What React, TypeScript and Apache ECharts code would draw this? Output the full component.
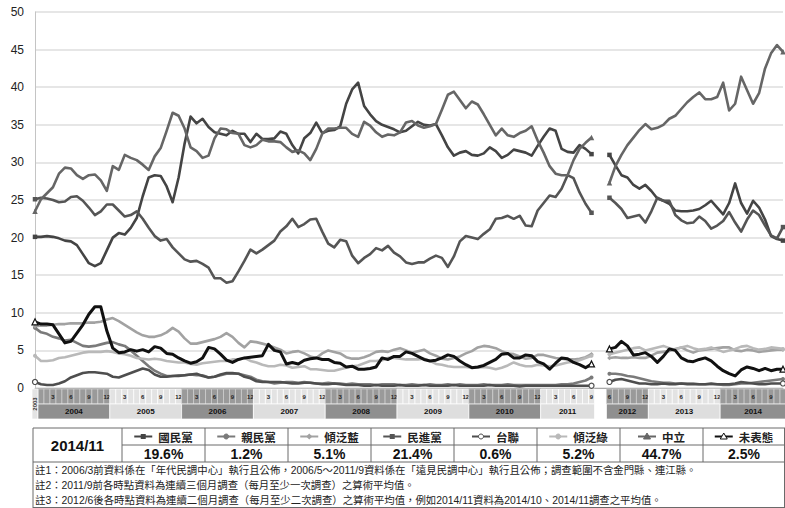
import React, { useEffect, useRef } from "react";
import * as echarts from "echarts";

// ---------- categories (2003/12 .. 2011/9, gap, 2012/6 .. 2014/11) ----------
const categories: string[] = ["2003/12"];
for (let y = 2004; y <= 2011; y++) {
  for (let m = 1; m <= 12; m++) {
    if (y === 2011 && m > 9) break;
    categories.push(`${y}/${m}`);
  }
}
categories.push("", "");
for (let y = 2012; y <= 2014; y++) {
  for (let m = 1; m <= 12; m++) {
    if (y === 2012 && m < 6) continue;
    if (y === 2014 && m > 11) break;
    categories.push(`${y}/${m}`);
  }
}

const yTicks = [0, 5, 10, 15, 20, 25, 30, 35, 40, 45, 50];

// ---------- series values (before gap: 94 points, after gap: 30 points) ----------
const kmtA = [20.1, 20.1, 20.2, 20.1, 19.9, 19.6, 19.5, 19.0, 17.8, 16.6,
  16.2, 16.6, 18.3, 20.0, 20.6, 20.4, 21.3, 22.6, 25.5, 28.0,
  28.3, 28.2, 26.8, 24.7, 28.0, 32.5, 36.1, 35.2, 35.8, 34.7,
  34.0, 33.8, 33.6, 34.2, 33.8, 33.8, 32.7, 33.8, 33.1, 33.1,
  33.2, 34.1, 33.8, 32.3, 31.2, 33.2, 33.9, 35.3, 33.9, 34.2,
  34.3, 34.8, 37.8, 39.7, 40.6, 37.5, 36.4, 35.5, 35.0, 34.7,
  34.4, 34.0, 34.2, 34.8, 35.4, 35.0, 34.9, 35.1, 33.6, 32.0,
  30.9, 31.3, 31.5, 31.0, 30.9, 31.2, 32.0, 31.5, 30.6, 31.0,
  31.7, 31.5, 31.3, 30.9, 32.2, 33.4, 34.5, 34.2, 31.8, 31.4,
  31.3, 32.3, 31.8, 31.1];
const kmtB = [31.0, 29.6, 28.3, 28.0, 27.0, 26.5, 27.0, 26.2, 25.2, 24.9,
  24.5, 23.6, 23.5, 23.5, 23.6, 23.8, 24.3, 24.9, 24.0, 23.1,
  24.6, 27.2, 24.6, 23.2, 24.9, 24.0, 22.4, 20.2, 19.8, 19.6];

const pfpA = [8.0, 7.4, 7.2, 6.8, 6.6, 6.3, 6.4, 6.0, 5.6, 5.5,
  5.6, 5.8, 6.0, 6.1, 5.8, 5.6, 5.0, 4.3, 3.6, 2.9,
  2.3, 1.9, 1.6, 1.6, 1.7, 1.7, 1.8, 1.7, 1.7, 1.4,
  1.5, 1.7, 1.9, 1.9, 1.9, 1.7, 1.5, 1.1, 0.9, 0.8,
  0.6, 0.7, 0.8, 0.8, 0.7, 0.8, 0.7, 0.6, 0.6, 0.7,
  0.6, 0.6, 0.5, 0.6, 0.5, 0.5, 0.5, 0.4, 0.5, 0.5,
  0.5, 0.4, 0.4, 0.5, 0.4, 0.4, 0.5, 0.4, 0.4, 0.5,
  0.4, 0.5, 0.4, 0.4, 0.4, 0.5, 0.4, 0.4, 0.4, 0.5,
  0.4, 0.4, 0.4, 0.4, 0.4, 0.4, 0.4, 0.4, 0.5, 0.5,
  0.6, 0.8, 1.0, 1.4];
const pfpB = [1.9, 1.9, 1.8, 1.6, 1.5, 1.3, 1.1, 0.9, 0.8, 0.7,
  0.7, 0.6, 0.6, 0.6, 0.6, 0.5, 0.5, 0.5, 0.5, 0.4,
  0.4, 0.5, 0.6, 0.6, 0.7, 0.8, 0.9, 1.0, 1.1, 1.2];

const leanBlueA = [8.2, 8.3, 8.3, 8.4, 8.5, 8.5, 8.6, 8.6, 8.6, 8.7,
  8.7, 8.8, 9.1, 9.3, 8.9, 8.4, 7.9, 7.4, 7.0, 6.8,
  6.8, 7.0, 7.4, 8.0, 7.5, 6.6, 5.9, 5.9, 6.1, 6.3,
  6.5, 6.8, 7.3, 6.8, 6.0, 5.4, 6.2, 6.1, 5.9, 5.7,
  5.4, 5.1, 4.6, 4.8, 4.9, 4.6, 4.2, 4.0, 4.6, 5.0,
  4.8, 4.6, 4.1, 3.9, 3.9, 4.1, 4.4, 4.8, 4.9, 4.8,
  5.1, 5.3, 5.0, 4.7, 4.9, 5.1, 4.6, 4.3, 3.9, 3.8,
  4.0, 4.2, 4.6, 4.9, 5.4, 5.6, 5.5, 5.3, 4.9, 4.6,
  4.5, 4.2, 3.9, 4.0, 4.4, 4.4, 4.2, 4.0, 3.9, 3.8,
  3.8, 3.9, 4.1, 4.5];
const leanBlueB = [4.0, 4.1, 4.0, 4.0, 4.1, 4.0, 4.0, 4.3, 4.7, 4.8,
  4.9, 5.2, 5.4, 5.0, 4.7, 5.0, 5.1, 5.2, 5.3, 5.4,
  5.4, 5.0, 4.9, 5.1, 5.0, 4.8, 4.9, 5.0, 5.1, 5.1];

const dppA = [25.1, 25.3, 25.2, 25.0, 24.7, 24.8, 25.4, 25.5, 24.9, 24.0,
  23.0, 23.5, 24.4, 24.4, 23.6, 22.8, 23.0, 23.5, 22.5, 21.3,
  20.2, 19.6, 19.8, 18.7, 17.9, 17.1, 16.8, 16.9, 16.5, 16.0,
  14.6, 14.6, 14.0, 14.2, 15.5, 16.9, 18.4, 17.9, 18.4, 19.0,
  19.6, 20.8, 21.5, 22.5, 21.4, 21.8, 22.4, 22.5, 20.8, 19.2,
  18.7, 19.7, 19.5, 17.6, 16.6, 17.3, 17.8, 18.6, 18.3, 18.9,
  18.0, 17.5, 16.7, 16.5, 16.7, 16.7, 17.2, 17.6, 17.3, 16.1,
  17.5, 19.5, 20.2, 20.0, 19.8, 20.5, 21.1, 22.5, 22.6, 22.9,
  22.5, 22.9, 21.6, 21.5, 23.6, 24.6, 25.6, 25.4, 26.5, 28.3,
  27.9, 26.0, 24.5, 23.3];
const dppB = [25.3, 24.6, 23.8, 22.6, 22.8, 23.0, 22.0, 23.5, 25.3, 24.9,
  24.9, 23.0, 22.3, 21.9, 22.0, 22.8, 22.2, 21.2, 21.6, 22.2,
  23.4, 22.0, 20.8, 22.4, 23.6, 23.0, 21.6, 20.3, 19.9, 21.4];

const tsuA = [0.8, 0.5, 0.4, 0.4, 0.6, 0.9, 1.4, 1.7, 2.0, 2.1,
  2.1, 2.0, 1.9, 1.5, 1.4, 1.7, 2.0, 2.3, 2.6, 2.4,
  1.8, 1.5, 1.5, 1.6, 1.6, 1.7, 1.8, 1.9, 1.6, 1.4,
  1.5, 1.8, 2.0, 2.0, 1.9, 1.5, 1.3, 0.9, 0.8, 0.8,
  0.8, 0.8, 0.7, 0.6, 0.6, 0.7, 0.7, 0.6, 0.5, 0.5,
  0.6, 0.5, 0.4, 0.4, 0.4, 0.3, 0.3, 0.4, 0.3, 0.3,
  0.3, 0.4, 0.3, 0.3, 0.3, 0.4, 0.3, 0.3, 0.3, 0.3,
  0.4, 0.3, 0.3, 0.3, 0.3, 0.3, 0.4, 0.3, 0.3, 0.3,
  0.3, 0.2, 0.3, 0.3, 0.3, 0.3, 0.3, 0.3, 0.3, 0.3,
  0.3, 0.3, 0.3, 0.3];
const tsuB = [0.8, 1.1, 1.2, 1.0, 0.8, 0.6, 0.6, 0.5, 0.5, 0.6,
  0.5, 0.5, 0.6, 0.5, 0.5, 0.5, 0.5, 0.6, 0.5, 0.5,
  0.5, 0.6, 0.8, 0.7, 0.6, 0.5, 0.5, 0.6, 0.6, 0.6];

const leanGreenA = [4.3, 3.6, 3.6, 3.7, 4.0, 4.1, 4.3, 4.5, 4.7, 4.8,
  4.8, 4.8, 4.9, 4.8, 4.6, 4.5, 4.3, 4.0, 3.9, 3.8,
  3.9, 3.8, 3.6, 3.5, 3.4, 3.4, 3.2, 3.1, 3.3, 3.4,
  3.5, 3.6, 3.6, 3.8, 3.8, 4.0, 3.6, 3.4, 3.1, 2.9,
  2.9, 3.1, 3.0, 2.7, 2.8, 2.9, 2.5, 2.5, 2.4, 2.3,
  2.3, 2.5, 2.7, 2.9, 3.0, 3.3, 3.6, 3.6, 3.7, 4.0,
  4.0, 3.9, 3.8, 3.8, 3.8, 3.9, 3.6, 3.2, 3.1, 2.9,
  2.8, 2.8, 2.8, 2.7, 2.7, 2.8, 2.7, 2.5, 2.7, 3.0,
  3.4, 3.1, 2.9, 2.9, 3.1, 3.0, 2.9, 3.0, 3.2, 3.4,
  3.5, 3.7, 4.0, 4.3];
const leanGreenB = [4.5, 4.7, 4.9, 5.1, 5.3, 5.4, 5.0, 5.2, 5.4, 5.6,
  5.3, 5.1, 5.4, 5.6, 5.3, 5.1, 5.2, 5.4, 5.1, 4.8,
  5.0, 5.2, 5.5, 5.6, 5.3, 5.1, 5.2, 5.4, 5.3, 5.2];

const neutralA = [23.5, 25.1, 25.9, 26.7, 28.5, 29.3, 29.2, 28.3, 27.8, 28.3,
  28.4, 27.6, 26.2, 29.5, 29.0, 31.0, 30.6, 30.3, 29.7, 29.0,
  30.8, 31.9, 34.2, 36.6, 36.2, 34.5, 32.0, 31.5, 30.6, 30.9,
  33.2, 34.5, 34.4, 33.9, 33.8, 32.3, 32.0, 32.3, 33.0, 32.8,
  32.8, 32.7, 32.0, 31.4, 31.6, 31.2, 30.3, 31.8, 33.8, 34.5,
  34.5, 34.6, 34.6, 33.8, 33.4, 35.4, 34.9, 34.0, 33.4, 33.7,
  33.6, 34.0, 35.3, 35.5, 34.9, 34.6, 34.8, 35.1, 37.0, 39.0,
  39.4, 38.3, 37.2, 38.1, 37.7, 36.4, 35.0, 33.6, 34.5, 33.6,
  33.4, 33.9, 34.2, 34.8, 32.9, 31.3, 29.5, 28.5, 28.3, 28.3,
  30.3, 31.8, 32.6, 33.3];
const neutralB = [27.3, 29.5, 31.0, 32.3, 33.3, 34.3, 35.1, 34.4, 34.6, 35.0,
  35.8, 36.2, 37.1, 38.0, 38.7, 39.3, 38.4, 38.4, 38.7, 40.6,
  36.9, 37.8, 41.4, 39.6, 37.8, 39.2, 42.5, 44.5, 45.6, 44.7];

const undecidedA = [8.8, 8.5, 8.5, 8.4, 7.2, 6.0, 6.2, 7.3, 8.4, 9.8,
  10.8, 10.8, 7.6, 5.3, 4.7, 4.8, 5.1, 4.9, 5.1, 4.8,
  5.5, 5.3, 4.6, 4.5, 4.0, 3.6, 3.3, 3.5, 4.0, 5.4,
  5.2, 4.5, 3.7, 3.4, 3.8, 4.0, 4.1, 4.2, 4.3, 5.8,
  5.0, 4.8, 3.2, 3.4, 3.2, 3.7, 3.9, 4.0, 3.8, 3.8,
  3.4, 3.3, 2.8, 2.9, 2.5, 2.5, 2.6, 2.8, 4.0, 3.8,
  4.2, 4.2, 4.8, 4.6, 4.2, 3.8, 3.6, 3.7, 4.0, 4.4,
  4.2, 3.6, 3.1, 2.7, 2.8, 3.0, 3.4, 3.8, 4.5, 4.6,
  4.0, 4.0, 4.4, 4.3, 3.5, 3.2, 2.5, 3.3, 4.0, 3.9,
  3.4, 3.1, 2.7, 3.2];
const undecidedB = [5.2, 5.4, 6.2, 5.6, 4.4, 4.5, 4.7, 4.2, 3.4, 4.2,
  5.2, 5.0, 4.0, 3.6, 3.5, 3.8, 4.0, 3.6, 2.9, 2.3,
  1.9, 1.6, 2.4, 2.8, 2.6, 2.3, 2.6, 2.3, 2.5, 2.5];

const notes = [
  "註1：2006/3前資料係在「年代民調中心」執行且公佈，2006/5～2011/9資料係在「遠見民調中心」執行且公佈；調查範圍不含金門縣、連江縣。",
  "註2：2011/9前各時點資料為連續三個月調查（每月至少一次調查）之算術平均值。",
  "註3：2012/6後各時點資料為連續二個月調查（每月至少二次調查）之算術平均值，例如2014/11資料為2014/10、2014/11調查之平均值。",
];

const join = (a: number[], b: number[]) => [...a, null, null, ...b];

type Def = { name: string; a: number[]; b: number[]; color: string; symbol: string; size: number; width: number; open?: boolean };
const defs: Def[] = [
  { name: "國民黨", a: kmtA, b: kmtB, color: "#444444", symbol: "rect", size: 4.5, width: 2.6 },
  { name: "親民黨", a: pfpA, b: pfpB, color: "#7a7a7a", symbol: "circle", size: 4, width: 2.6 },
  { name: "傾泛藍", a: leanBlueA, b: leanBlueB, color: "#a2a2a2", symbol: "diamond", size: 4.5, width: 2.6 },
  { name: "民進黨", a: dppA, b: dppB, color: "#555555", symbol: "rect", size: 4.5, width: 2.6 },
  { name: "台聯", a: tsuA, b: tsuB, color: "#4e4e4e", symbol: "circle", size: 5, width: 2.6, open: true },
  { name: "傾泛綠", a: leanGreenA, b: leanGreenB, color: "#b9b9b9", symbol: "circle", size: 4, width: 2.6 },
  { name: "中立", a: neutralA, b: neutralB, color: "#666666", symbol: "triangle", size: 5.5, width: 2.6 },
  { name: "未表態", a: undecidedA, b: undecidedB, color: "#111111", symbol: "triangle", size: 6, width: 3, open: true },
];

const endIdx = [0, 93, 96, 125];

// band data
const monthCells: number[][] = [];
categories.forEach((c, i) => {
  if (!c || i === 0) return;
  const [y, m] = c.split("/").map(Number);
  monthCells.push([i, 1, y, m]);
});
const yearBlocks: number[][] = [];
categories.forEach((c, i) => {
  if (!c) return;
  const y = Number(c.split("/")[0]);
  const last = yearBlocks[yearBlocks.length - 1];
  if (last && last[3] === y) last[2] = i;
  else yearBlocks.push([i, 1, i, y]);
});

const CJK = '"Noto Sans CJK TC", "Noto Sans CJK SC", sans-serif';
const LAT = '"Liberation Sans", Arial, "Noto Sans CJK TC", sans-serif';

function buildGraphic() {
  const els: any[] = [];
  const top = 428, r1 = 445, r2 = 462, bottom = 508;
  const colX = [33, 122, 205, 288, 371, 454, 537, 620, 703, 785];
  const ls = { stroke: "#6a6a6a", lineWidth: 1 };
  els.push({ type: "line", shape: { x1: 33, y1: top, x2: 785, y2: top }, style: ls });
  els.push({ type: "line", shape: { x1: 122, y1: r1, x2: 785, y2: r1 }, style: ls });
  els.push({ type: "line", shape: { x1: 33, y1: r2, x2: 785, y2: r2 }, style: ls });
  els.push({ type: "line", shape: { x1: 33, y1: top, x2: 33, y2: bottom }, style: ls });
  els.push({ type: "line", shape: { x1: 784.5, y1: top, x2: 784.5, y2: bottom }, style: ls });
  els.push({ type: "line", shape: { x1: 33, y1: bottom - 0.5, x2: 785, y2: bottom - 0.5 }, style: ls });
  for (let k = 1; k < colX.length - 1; k++) {
    els.push({ type: "line", shape: { x1: colX[k], y1: top, x2: colX[k], y2: r2 }, style: ls });
  }
  els.push({
    type: "text", x: (colX[0] + colX[1]) / 2, y: (top + r2) / 2,
    style: { text: categories[categories.length - 1], fill: "#111", font: `bold 15px ${LAT}`, align: "center", verticalAlign: "middle" },
  });
  defs.forEach((d, k) => {
    const cx = (colX[k + 1] + colX[k + 2]) / 2;
    const fs = 11.5;
    const tw = d.name.length * fs;
    const total = 18 + 6 + tw;
    const x0 = cx - total / 2;
    const yc = (top + r1) / 2;
    els.push({ type: "line", shape: { x1: x0, y1: yc, x2: x0 + 18, y2: yc }, style: { stroke: d.color, lineWidth: 2 } });
    const mx = x0 + 9;
    const fill = d.open ? "#fff" : d.color;
    if (d.symbol === "rect") els.push({ type: "rect", shape: { x: mx - 2.5, y: yc - 2.5, width: 5, height: 5 }, style: { fill } });
    else if (d.symbol === "triangle") els.push({ type: "polygon", shape: { points: [[mx, yc - 3.5], [mx + 3.5, yc + 2.5], [mx - 3.5, yc + 2.5]] }, style: { fill, stroke: d.color, lineWidth: 1 } });
    else if (d.symbol === "diamond") els.push({ type: "polygon", shape: { points: [[mx, yc - 3], [mx + 3, yc], [mx, yc + 3], [mx - 3, yc]] }, style: { fill } });
    else els.push({ type: "circle", shape: { cx: mx, cy: yc, r: 2.5 }, style: { fill, stroke: d.color, lineWidth: 1 } });
    els.push({
      type: "text", x: x0 + 24, y: yc,
      style: { text: d.name, fill: "#222", font: `bold ${fs}px ${CJK}`, align: "left", verticalAlign: "middle" },
    });
    const last = d.b[d.b.length - 1];
    els.push({
      type: "text", x: cx, y: (r1 + r2) / 2 + 0.5,
      style: { text: `${last.toFixed(1)}%`, fill: "#111", font: `bold 14px ${LAT}`, align: "center", verticalAlign: "middle" },
    });
  });
  notes.forEach((t, k) => {
    els.push({
      type: "text", x: 35, y: 470 + k * 15.3,
      style: { text: t, fill: "#222", font: `10.4px ${LAT}`, align: "left", verticalAlign: "middle" },
    });
  });
  return els;
}

function buildOption(): any {
  const lineSeries = defs.map((d, k) => ({
    type: "line",
    name: d.name,
    data: join(d.a, d.b),
    xAxisIndex: 0,
    yAxisIndex: 0,
    symbol: d.symbol,
    symbolSize: (_v: any, p: any) => (endIdx.includes(p.dataIndex) ? d.size : 0),
    showAllSymbol: true,
    connectNulls: false,
    lineStyle: { color: d.color, width: d.width, join: "round" },
    itemStyle: { color: d.open ? "#ffffff" : d.color, borderColor: d.color, borderWidth: d.open ? 1.2 : 0 },
    emphasis: { disabled: true },
    z: 2 + (k === 7 ? 2 : 0),
  }));

  const monthSeries = {
    type: "custom",
    xAxisIndex: 1,
    yAxisIndex: 1,
    data: monthCells,
    encode: { x: 0, y: 1 },
    silent: true,
    renderItem: (_p: any, api: any) => {
      const idx = api.value(0);
      const yr = api.value(2);
      const mo = api.value(3);
      const a = api.coord([idx, 2]);
      const b = api.coord([idx, 1]);
      const w = api.size([1, 0])[0];
      const dark = yr % 2 === 0;
      const children: any[] = [
        { type: "rect", shape: { x: a[0] - w / 2, y: a[1], width: w, height: b[1] - a[1] },
          style: { fill: dark ? "#9a9a9a" : "#e3e3e3", stroke: dark ? "#d0d0d0" : "#ffffff", lineWidth: 0.7 } },
      ];
      if (mo % 3 === 0) {
        children.push({ type: "text", x: a[0], y: (a[1] + b[1]) / 2,
          style: { text: String(mo), fill: "#222", font: 'bold 6px "Liberation Sans Narrow", "Liberation Sans", sans-serif', align: "center", verticalAlign: "middle" } });
      }
      return { type: "group", children };
    },
  };

  const yearSeries = {
    type: "custom",
    xAxisIndex: 1,
    yAxisIndex: 1,
    data: yearBlocks,
    encode: { x: 0, y: 1 },
    silent: true,
    renderItem: (_p: any, api: any) => {
      const s = api.value(0);
      const e = api.value(2);
      const yr = api.value(3);
      const w = api.size([1, 0])[0];
      const x0 = api.coord([s, 0])[0] - w / 2;
      const x1 = api.coord([e, 0])[0] + w / 2;
      const yTop = api.coord([s, 1])[1];
      const yBot = api.coord([s, 0])[1];
      const yAll = api.coord([s, 2])[1];
      if (s === e) {
        return { type: "group", children: [
          { type: "rect", shape: { x: x0, y: yAll, width: x1 - x0, height: yBot - yAll }, style: { fill: "#e3e3e3", stroke: "#fff", lineWidth: 0.7 } },
          { type: "text", x: (x0 + x1) / 2, y: (yAll + yBot) / 2, rotation: Math.PI / 2,
            style: { text: String(yr), fill: "#333", font: 'bold 6px "Liberation Sans Narrow", sans-serif', align: "center", verticalAlign: "middle" } },
        ] };
      }
      const dark = yr % 2 === 0;
      return { type: "group", children: [
        { type: "rect", shape: { x: x0, y: yTop, width: x1 - x0, height: yBot - yTop }, style: { fill: dark ? "#8f8f8f" : "#dedede", stroke: "#fff", lineWidth: 0.7 } },
        { type: "text", x: (x0 + x1) / 2, y: (yTop + yBot) / 2,
          style: { text: String(yr), fill: "#111", font: 'bold 8px "Liberation Sans Narrow", "Liberation Sans", sans-serif', align: "center", verticalAlign: "middle" } },
      ] };
    },
  };

  return {
    animation: false,
    backgroundColor: "#ffffff",
    grid: [
      { left: 35, right: 2, top: 12, height: 376 },
      { left: 35, right: 2, top: 389, height: 30 },
    ],
    xAxis: [
      { type: "category", gridIndex: 0, data: categories, boundaryGap: false,
        axisLine: { show: true, lineStyle: { color: "#a8a8a8", width: 1 } },
        axisTick: { show: false }, axisLabel: { show: false }, splitLine: { show: false } },
      { type: "category", gridIndex: 1, data: categories, boundaryGap: false,
        axisLine: { show: false }, axisTick: { show: false }, axisLabel: { show: false }, splitLine: { show: false } },
    ],
    yAxis: [
      { type: "value", gridIndex: 0, min: yTicks[0], max: yTicks[yTicks.length - 1], interval: 5,
        axisLine: { show: true, lineStyle: { color: "#c4c4c4", width: 1 } },
        axisTick: { show: false },
        axisLabel: { color: "#222", fontSize: 12, fontFamily: '"Liberation Sans", Arial, sans-serif', margin: 11 },
        splitLine: { show: true, lineStyle: { color: "#dedede", width: 1.5 } } },
      { type: "value", gridIndex: 1, min: 0, max: 2, show: false },
    ],
    series: [...lineSeries, monthSeries, yearSeries],
    graphic: buildGraphic(),
  };
}

export default function App() {
  const ref = useRef<HTMLDivElement>(null);
  useEffect(() => {
    document.body.style.margin = "0";
    const chart = echarts.init(ref.current!, null, { renderer: "svg" });
    chart.setOption(buildOption());
    return () => chart.dispose();
  }, []);
  return <div ref={ref} style={{ width: 785, height: 508 }} />;
}
